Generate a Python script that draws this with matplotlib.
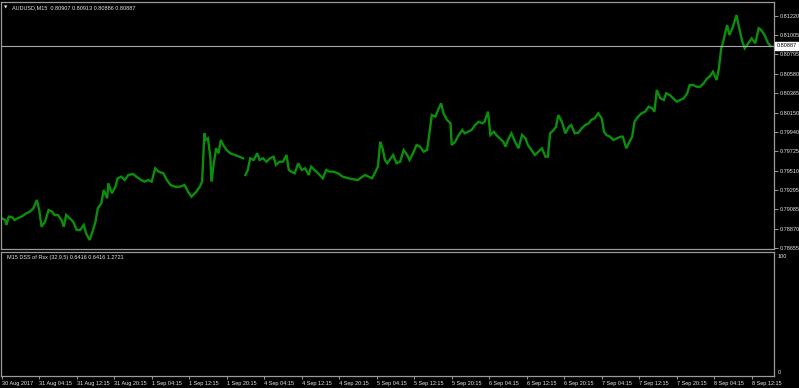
import numpy as np
import matplotlib
matplotlib.use("Agg")
import matplotlib.pyplot as plt
from matplotlib.transforms import blended_transform_factory

plt.rcParams["font.family"] = ["Liberation Sans", "DejaVu Sans"]

# ---- data: AUDUSD M15, sampled bars (bar index from 30 Aug 2017) ----
# Thu/Fri session before the weekend
bars_a = [0, 3, 4, 6, 9, 11, 14, 17, 20, 24, 27, 30, 32, 34, 37, 40, 43, 45, 48, 51,
          53, 55, 58, 61, 64, 67, 70, 72, 75, 78, 80, 82, 85, 87, 90, 91, 94, 97, 99, 102,
          105, 108, 112, 115, 119, 122, 125, 128, 131, 134, 138, 141, 144, 148, 152, 156,
          159, 162, 166, 169, 171, 173, 174, 176, 178, 179, 181, 183, 185, 187, 189, 192,
          195, 199, 203, 206]
price_a = [0.78986, 0.78967, 0.78912, 0.79004, 0.78997, 0.78967, 0.78989, 0.79004, 0.79033,
           0.79059, 0.79096, 0.79188, 0.79077, 0.78893, 0.78948, 0.79077, 0.79059, 0.79022,
           0.79022, 0.78967, 0.78893, 0.79022, 0.78986, 0.78948, 0.78857, 0.78857, 0.78912,
           0.78820, 0.78747, 0.78857, 0.78948, 0.79096, 0.79151, 0.79298, 0.79206, 0.79372,
           0.79262, 0.79334, 0.79427, 0.79445, 0.79408, 0.79463, 0.79475, 0.79445, 0.79408,
           0.79390, 0.79408, 0.79390, 0.79537, 0.79500, 0.79482, 0.79408, 0.79353, 0.79334,
           0.79334, 0.79353, 0.79279, 0.79224, 0.79279, 0.79334, 0.79390, 0.79923, 0.79850,
           0.79868, 0.79665, 0.79390, 0.79593, 0.79758, 0.79703, 0.79850, 0.79794, 0.79739,
           0.79703, 0.79684, 0.79665, 0.79648]

# Monday 4 Sep onwards
bars_b = [208, 210, 212, 215, 218, 220, 223, 226, 229, 232, 234, 237, 240, 243, 245, 247,
          250, 253, 256, 259, 262, 264, 267, 270, 274, 277, 280, 283, 287, 291, 296, 300,
          304, 307, 310, 313, 316, 319, 321, 323, 325, 327, 329, 331, 334, 337, 340, 343,
          346, 348, 351, 354, 357, 360, 363, 365, 367, 370, 373, 375, 377, 380, 383, 384,
          387, 390, 393, 395, 398, 401, 404, 407, 410, 412, 415, 417, 420, 422, 425, 428,
          430, 432, 435, 438, 441, 444, 447, 449, 452, 455, 458, 461, 464, 466, 468, 471,
          473, 475, 478, 481, 484, 486, 489, 492, 495, 498, 501, 503, 506, 509, 512, 514,
          516, 519, 522, 525, 528, 530, 533, 535, 538, 540, 543, 546, 549, 552, 555, 557,
          559, 562, 565, 567, 570, 573, 576, 579, 582, 585, 587, 590, 593, 596, 599, 602,
          604, 607, 610, 612, 614, 616, 619, 621, 624, 627, 630, 632, 634, 637, 640, 643,
          646, 648, 651, 654, 656]
price_b = [0.79463, 0.79519, 0.79648, 0.79629, 0.79703, 0.79629, 0.79648, 0.79610, 0.79648,
           0.79665, 0.79574, 0.79610, 0.79610, 0.79684, 0.79519, 0.79500, 0.79482, 0.79593,
           0.79519, 0.79537, 0.79463, 0.79555, 0.79519, 0.79482, 0.79427, 0.79519, 0.79500,
           0.79500, 0.79482, 0.79445, 0.79427, 0.79416, 0.79408, 0.79438, 0.79463, 0.79445,
           0.79427, 0.79500, 0.79555, 0.79831, 0.79758, 0.79629, 0.79593, 0.79629, 0.79684,
           0.79593, 0.79610, 0.79739, 0.79684, 0.79629, 0.79703, 0.79794, 0.79776, 0.79721,
           0.79739, 0.79923, 0.80125, 0.80107, 0.80199, 0.80254, 0.80144, 0.80070, 0.80034,
           0.79794, 0.79831, 0.79905, 0.79960, 0.79923, 0.79941, 0.79960, 0.80015, 0.80051,
           0.80034, 0.80051, 0.80162, 0.79905, 0.79941, 0.79905, 0.79868, 0.79831, 0.79776,
           0.79850, 0.79923, 0.79831, 0.79758, 0.79905, 0.79868, 0.79794, 0.79739, 0.79684,
           0.79721, 0.79758, 0.79665, 0.79665, 0.79923, 0.79960, 0.79996, 0.80125, 0.80051,
           0.79923, 0.79996, 0.80015, 0.79923, 0.79930, 0.79979, 0.80015, 0.80034, 0.80070,
           0.80089, 0.80144, 0.80089, 0.79941, 0.79905, 0.79886, 0.79850, 0.79868, 0.79886,
           0.79886, 0.79758, 0.79813, 0.79886, 0.80051, 0.80107, 0.80144, 0.80162, 0.80217,
           0.80199, 0.80162, 0.80401, 0.80310, 0.80291, 0.80365, 0.80346, 0.80310, 0.80272,
           0.80291, 0.80310, 0.80365, 0.80456, 0.80456, 0.80437, 0.80437, 0.80475, 0.80530,
           0.80548, 0.80603, 0.80511, 0.80640, 0.80861, 0.80953, 0.81118, 0.81008, 0.81099,
           0.81228, 0.81044, 0.80934, 0.80861, 0.80916, 0.80971, 0.80916, 0.81082, 0.81063,
           0.81008, 0.80916, 0.80887]

price_ticks = [0.81220, 0.81005, 0.80795, 0.80580, 0.80365, 0.80150, 0.79940,
               0.79725, 0.79510, 0.79295, 0.79085, 0.78870, 0.78655]
last_price = 0.80887

time_tick_bars = list(range(0, 641, 32))
time_labels = ["30 Aug 2017", "31 Aug 04:15", "31 Aug 12:15", "31 Aug 20:15",
               "1 Sep 04:15", "1 Sep 12:15", "1 Sep 20:15", "4 Sep 04:15",
               "4 Sep 12:15", "4 Sep 20:15", "5 Sep 04:15", "5 Sep 12:15",
               "5 Sep 20:15", "6 Sep 04:15", "6 Sep 12:15", "6 Sep 20:15",
               "7 Sep 04:15", "7 Sep 12:15", "7 Sep 20:15", "8 Sep 04:15",
               "8 Sep 12:15"]

title = "AUDUSD,M15  0.80907 0.80913 0.80886 0.80887"
ind_title = "M15 DSS of Rsx (32,9,5) 0.6416 0.6416 1.2721"

BG = "#000000"
GRID = "#9a9a9a"
TXT = "#e6e6e6"
BAR = "#0c8e0c"
FS = 4.0

W, H = 799, 388
fig = plt.figure(figsize=(W / 100, H / 100), dpi=100, facecolor=BG)

# main price panel
ax = fig.add_axes([1 / W, 1 - 249 / H, 772.5 / W, 247 / H], facecolor=BG)
ax.plot(bars_a, price_a, color=BAR, lw=1.7, solid_joinstyle="miter")
ax.plot(bars_b, price_b, color=BAR, lw=1.7, solid_joinstyle="miter")
ax.axhline(last_price, color="#a8a8a8", lw=0.8)
ax.set_xlim(-0.6, 658.6)
ax.set_ylim(0.78647, 0.81372)
ax.yaxis.tick_right()
ax.set_yticks(price_ticks)
ax.set_yticklabels([f"{p:.5f}" for p in price_ticks])
ax.tick_params(axis="y", colors=GRID, labelcolor=TXT, labelsize=FS, length=3,
               width=0.7, pad=1.5, direction="out")
ax.set_xticks([])
for s in ax.spines.values():
    s.set_color(GRID)
    s.set_linewidth(0.9)

tr = blended_transform_factory(ax.transAxes, ax.transData)
ax.text(1.004, last_price, f"{last_price:.5f}", transform=tr, fontsize=FS,
        color="#000000", va="center", ha="left",
        bbox=dict(boxstyle="square,pad=0.25", facecolor="#ffffff", edgecolor="#ffffff"))
ax.text(0.004, 0.985, "\u25bc", transform=ax.transAxes, fontsize=FS - 0.8,
        color=TXT, va="top", ha="left", family=["DejaVu Sans"])
ax.text(0.014, 0.985, title, transform=ax.transAxes, fontsize=FS,
        color=TXT, va="top", ha="left")

# indicator panel
ax2 = fig.add_axes([1 / W, 1 - 375.5 / H, 772.5 / W, 123.5 / H], facecolor=BG)
ax2.set_xlim(-0.6, 658.6)
ax2.set_ylim(-3, 103.4)
ax2.yaxis.tick_right()
ax2.set_yticks([0, 100])
ax2.set_yticklabels(["0", "100"])
ax2.tick_params(axis="y", colors=GRID, labelcolor=TXT, labelsize=FS, length=0, pad=3)
ax2.set_xticks(time_tick_bars)
ax2.set_xticklabels(time_labels, ha="left")
ax2.tick_params(axis="x", colors=GRID, labelcolor=TXT, labelsize=FS, length=2.5,
                width=0.7, pad=1.5, direction="out")
for s in ax2.spines.values():
    s.set_color(GRID)
    s.set_linewidth(0.9)
ax2.text(0.008, 0.975, ind_title, transform=ax2.transAxes, fontsize=FS,
         color=TXT, va="top", ha="left")

fig.savefig("out.png", dpi=100, facecolor=BG)
